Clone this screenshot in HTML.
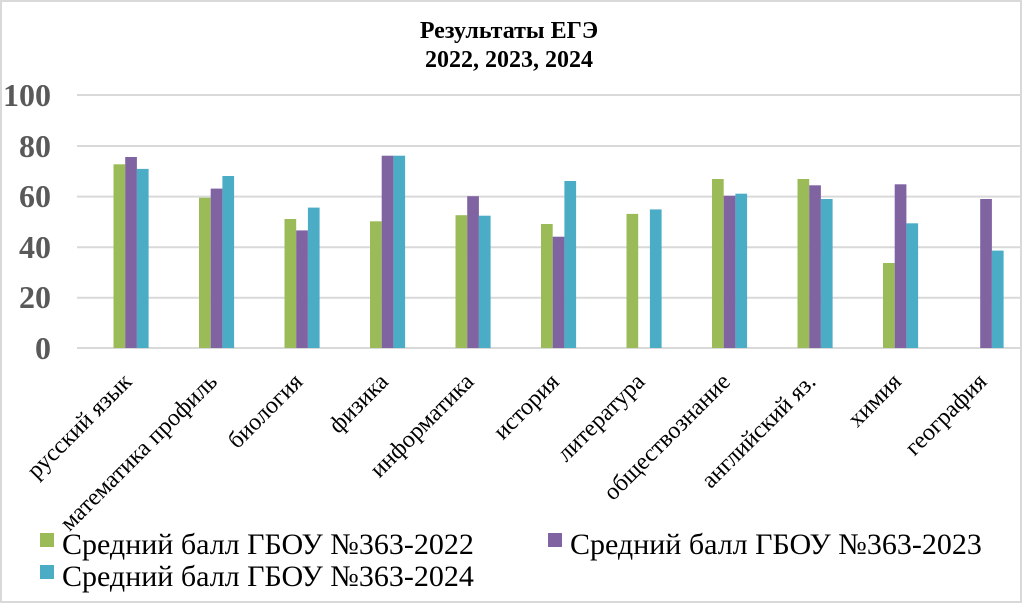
<!DOCTYPE html>
<html><head><meta charset="utf-8"><style>
html,body{margin:0;padding:0;background:#fff;}
svg{display:block;}
</style></head><body>
<svg width="1024" height="604" viewBox="0 0 1024 604" xmlns="http://www.w3.org/2000/svg">
<rect x="0" y="0" width="1024" height="604" fill="#fff"/>
<rect x="1" y="1" width="1020" height="601" fill="none" stroke="#d9d9d9" stroke-width="2"/>
<g style="font-family:'Liberation Serif',serif;font-weight:bold;font-size:24px" text-anchor="middle" fill="#000">
<text x="509" y="38">Результаты ЕГЭ</text>
<text x="509" y="67">2022, 2023, 2024</text>
</g>
<g stroke="#d9d9d9" stroke-width="2">
<line x1="77" x2="1020" y1="95" y2="95"/>
<line x1="77" x2="1020" y1="146" y2="146"/>
<line x1="77" x2="1020" y1="196.6" y2="196.6"/>
<line x1="77" x2="1020" y1="247.2" y2="247.2"/>
<line x1="77" x2="1020" y1="297.8" y2="297.8"/>
<line x1="77" x2="1020" y1="348" y2="348"/>
</g>
<g style="font-family:'Liberation Serif',serif;font-weight:bold;font-size:32px" text-anchor="end" fill="#595959">
<text x="51" y="106">100</text>
<text x="51" y="157">80</text>
<text x="51" y="207">60</text>
<text x="51" y="258">40</text>
<text x="51" y="308">20</text>
<text x="51" y="359">0</text>
</g>
<g>
<rect x="113.5" y="164.3" width="11.7" height="183.7" fill="#9bbb59"/>
<rect x="125.2" y="157" width="11.7" height="191" fill="#8064a2"/>
<rect x="136.9" y="168.9" width="11.7" height="179.1" fill="#4bacc6"/>

<rect x="199" y="197.7" width="11.7" height="150.3" fill="#9bbb59"/>
<rect x="210.7" y="188.6" width="11.7" height="159.4" fill="#8064a2"/>
<rect x="222.4" y="176" width="11.7" height="172" fill="#4bacc6"/>

<rect x="284.5" y="219" width="11.7" height="129" fill="#9bbb59"/>
<rect x="296.2" y="230.4" width="11.7" height="117.6" fill="#8064a2"/>
<rect x="307.9" y="207.6" width="11.7" height="140.4" fill="#4bacc6"/>

<rect x="370" y="221.3" width="11.7" height="126.7" fill="#9bbb59"/>
<rect x="381.7" y="155.7" width="11.7" height="192.3" fill="#8064a2"/>
<rect x="393.4" y="155.7" width="11.7" height="192.3" fill="#4bacc6"/>

<rect x="455.5" y="215.2" width="11.7" height="132.8" fill="#9bbb59"/>
<rect x="467.2" y="196.2" width="11.7" height="151.8" fill="#8064a2"/>
<rect x="478.9" y="215.7" width="11.7" height="132.3" fill="#4bacc6"/>

<rect x="541" y="224" width="11.7" height="124" fill="#9bbb59"/>
<rect x="552.7" y="236.7" width="11.7" height="111.3" fill="#8064a2"/>
<rect x="564.4" y="181" width="11.7" height="167" fill="#4bacc6"/>

<rect x="626.5" y="213.9" width="11.7" height="134.1" fill="#9bbb59"/>
<rect x="649.9" y="209.4" width="11.7" height="138.6" fill="#4bacc6"/>

<rect x="712" y="179" width="11.7" height="169" fill="#9bbb59"/>
<rect x="723.7" y="195.7" width="11.7" height="152.3" fill="#8064a2"/>
<rect x="735.4" y="193.7" width="11.7" height="154.3" fill="#4bacc6"/>

<rect x="797.5" y="179" width="11.7" height="169" fill="#9bbb59"/>
<rect x="809.2" y="185.3" width="11.7" height="162.7" fill="#8064a2"/>
<rect x="820.9" y="199" width="11.7" height="149" fill="#4bacc6"/>

<rect x="883" y="263" width="11.7" height="85" fill="#9bbb59"/>
<rect x="894.7" y="184.3" width="11.7" height="163.7" fill="#8064a2"/>
<rect x="906.4" y="223.3" width="11.7" height="124.7" fill="#4bacc6"/>

<rect x="980.2" y="199" width="11.7" height="149" fill="#8064a2"/>
<rect x="991.9" y="250.6" width="11.7" height="97.4" fill="#4bacc6"/>
</g>
<g style="font-family:'Liberation Serif',serif;font-size:24px" text-anchor="end" fill="#000">
<text x="133" y="383" transform="rotate(-45 133 383)">русский язык</text>
<text x="218.5" y="383" transform="rotate(-45 218.5 383)">математика профиль</text>
<text x="304" y="383" transform="rotate(-45 304 383)">биология</text>
<text x="389.5" y="383" transform="rotate(-45 389.5 383)">физика</text>
<text x="475" y="383" transform="rotate(-45 475 383)">информатика</text>
<text x="560.5" y="383" transform="rotate(-45 560.5 383)">история</text>
<text x="646" y="383" transform="rotate(-45 646 383)">литература</text>
<text x="731.5" y="383" transform="rotate(-45 731.5 383)">обществознание</text>
<text x="817" y="383" transform="rotate(-45 817 383)">английский яз.</text>
<text x="902.5" y="383" transform="rotate(-45 902.5 383)">химия</text>
<text x="988" y="383" transform="rotate(-45 988 383)">география</text>
</g>
<g style="font-family:'Liberation Serif',serif;font-size:30px" fill="#000">
<rect x="40" y="533" width="14" height="14" fill="#9bbb59"/>
<text x="62" y="554">Средний балл ГБОУ №363-2022</text>
<rect x="548" y="533" width="14" height="14" fill="#8064a2"/>
<text x="570" y="554">Средний балл ГБОУ №363-2023</text>
<rect x="40" y="565" width="14" height="14" fill="#4bacc6"/>
<text x="62" y="586">Средний балл ГБОУ №363-2024</text>
</g>
</svg>
</body></html>
